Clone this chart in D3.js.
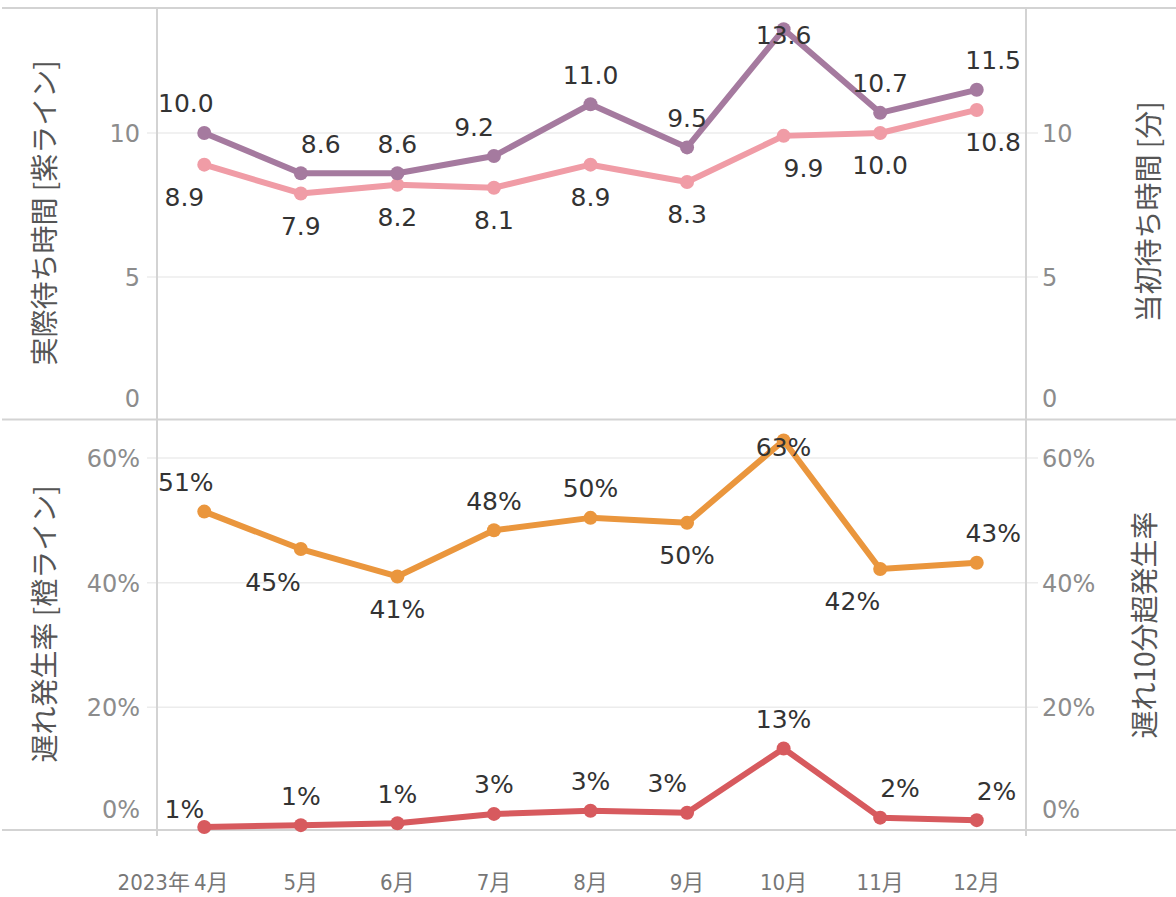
<!DOCTYPE html>
<html lang="ja">
<head>
<meta charset="utf-8">
<script src="https://cdn.jsdelivr.net/npm/d3@7"></script>
<style>
  html, body { margin: 0; padding: 0; background: #fff; }
  svg { display: block; }
  .tick-label { font-family: "DejaVu Sans", sans-serif; font-size: 24px; fill: #8c8c8c; }
  .value-label { font-family: "DejaVu Sans", sans-serif; font-size: 25px; fill: #333; }
  .axis-title { font-family: "Noto Sans CJK JP", sans-serif; font-size: 28px; fill: #555; }
  .month-label { font-family: "DejaVu Sans Condensed", "DejaVu Sans", "Noto Sans CJK JP", sans-serif; font-stretch: condensed; font-size: 22px; fill: #777; }
</style>
</head>
<body>
<svg id="chart" width="1176" height="897"></svg>
<script>
// ---- data ----
const yearLabel = "2023年";
const months = ["4月", "5月", "6月", "7月", "8月", "9月", "10月", "11月", "12月"];
const actualWait = [10.0, 8.6, 8.6, 9.2, 11.0, 9.5, 13.6, 10.7, 11.5];   // 実際待ち時間 (分)
const plannedWait = [8.9, 7.9, 8.2, 8.1, 8.9, 8.3, 9.9, 10.0, 10.8];    // 当初待ち時間 (分)
const delayRate = [0.514, 0.454, 0.410, 0.484, 0.504, 0.496, 0.628, 0.422, 0.432];      // 遅れ発生率
const delayOver10Rate = [0.008, 0.011, 0.014, 0.029, 0.034, 0.031, 0.134, 0.023, 0.019]; // 遅れ10分超発生率
const waitTicks = [0, 5, 10];
const rateTicks = [0, 0.2, 0.4, 0.6];

// label placement per point: a = above, l = just above, b = below; s/m/e = text anchor start/middle/end
const actualPlace  = ["ae", "as", "am", "ae", "am", "am", "am", "am", "as"];
const plannedPlace = ["be", "bm", "bm", "bm", "bm", "bm", "bs", "bm", "bs"];
const delayPlace   = ["ae", "be", "bm", "am", "am", "bm", "am", "be", "as"];
const over10Place  = ["le", "am", "am", "am", "am", "ae", "am", "as", "as"];

// ---- layout ----
const W = 1176, H = 897;
const paneL = 157, paneR = 1026;
const topPane = { top: 8, bottom: 419 };
const botPane = { top: 420, bottom: 830 };

const svg = d3.select("#chart");

const x = d3.scalePoint().domain(months).range([156, 1025]).padding(0.5);
const yWait = d3.scaleLinear().domain([0, 14.34]).range([421, 8]);
const yRate = d3.scaleLinear().domain([0, 0.661]).range([832, 420]);

// gridlines
function grid(scale, ticks, pane) {
  svg.append("g").selectAll("line")
    .data(ticks.filter(t => scale(t) > pane.top && scale(t) < pane.bottom))
    .join("line")
    .attr("x1", 147).attr("x2", 1038)
    .attr("y1", d => scale(d)).attr("y2", d => scale(d))
    .attr("stroke", "#ececec").attr("stroke-width", 1.5);
}
grid(yWait, waitTicks, topPane);
grid(yRate, rateTicks, botPane);

// pane borders
const borderColor = "#d3d3d3";
[topPane.top, topPane.bottom + 0.5, botPane.bottom].forEach(y => {
  svg.append("line").attr("x1", 2).attr("x2", W).attr("y1", y).attr("y2", y)
    .attr("stroke", borderColor).attr("stroke-width", 2);
});
[paneL, paneR].forEach(xx => {
  svg.append("line").attr("x1", xx).attr("x2", xx).attr("y1", topPane.top).attr("y2", 836)
    .attr("stroke", borderColor).attr("stroke-width", 2);
});

// axes (labels only)
function axis(gen, scale, ticks, fmt, xPos, pane) {
  const g = svg.append("g").attr("transform", `translate(${xPos},0)`)
    .call(gen(scale).tickValues(ticks).tickSize(0).tickPadding(gen === d3.axisLeft ? 17 : 16).tickFormat(fmt));
  g.select(".domain").remove();
  g.selectAll(".tick text")
    .attr("class", "tick-label")
    .attr("font-size", null).attr("font-family", null).attr("fill", null)
    .attr("dy", "0.36em")
    .attr("y", d => Math.min(0, (pane.bottom - 21) - scale(d)));
}
const pct = d3.format(".0%");
axis(d3.axisLeft, yWait, waitTicks, d3.format("d"), paneL, topPane);
axis(d3.axisRight, yWait, waitTicks, d3.format("d"), paneR, topPane);
axis(d3.axisLeft, yRate, rateTicks, pct, paneL, botPane);
axis(d3.axisRight, yRate, rateTicks, pct, paneR, botPane);

// axis titles
function title(text, cx, cy) {
  svg.append("text").attr("class", "axis-title")
    .attr("transform", `translate(${cx},${cy}) rotate(-90)`)
    .attr("text-anchor", "middle").attr("dominant-baseline", "central")
    .text(text);
}
title("実際待ち時間 [紫ライン]", 43, 213);
title("遅れ発生率 [橙ライン]", 43, 624);
title("当初待ち時間 [分]", 1147, 212);
title("遅れ10分超発生率", 1143, 625);

// series
const vOffset = { a: -29, l: -18, b: 33 };
function series(values, scale, color, place, fmt, pane) {
  const pts = values.map((v, i) => ({ v, m: months[i], p: place[i] }));
  const g = svg.append("g");
  g.append("path").datum(pts)
    .attr("fill", "none").attr("stroke", color).attr("stroke-width", 6)
    .attr("stroke-linejoin", "round").attr("stroke-linecap", "round")
    .attr("d", d3.line().x(d => x(d.m)).y(d => scale(d.v)));
  g.selectAll("circle").data(pts).join("circle")
    .attr("cx", d => x(d.m)).attr("cy", d => scale(d.v)).attr("r", 7)
    .attr("fill", color);
  const labels = g.selectAll("text").data(pts).join("text")
    .attr("class", "value-label")
    .attr("dominant-baseline", "central")
    .attr("text-anchor", d => ({ s: "start", m: "middle", e: "end" })[d.p[1]])
    .attr("x", d => x(d.m))
    .attr("y", d => Math.max(scale(d.v) + vOffset[d.p[0]], pane.top + 27))
    .text(d => fmt(d.v));
  // keep labels inside the pane horizontally
  labels.each(function () {
    const bb = this.getBBox();
    const el = d3.select(this);
    let shift = 0;
    if (bb.x < paneL + 1) shift = paneL + 1 - bb.x;
    if (bb.x + bb.width > paneR - 5) shift = (paneR - 5) - (bb.x + bb.width);
    if (shift) el.attr("x", +el.attr("x") + shift);
  });
}
const f1 = d3.format(".1f");
series(plannedWait, yWait, "#f09ca6", plannedPlace, f1, topPane);
series(actualWait, yWait, "#a57a9f", actualPlace, f1, topPane);
series(delayRate, yRate, "#ea963d", delayPlace, pct, botPane);
series(delayOver10Rate, yRate, "#d75a5e", over10Place, pct, botPane);

// month header
const mg = svg.append("g");
mg.selectAll("text").data(months).join("text")
  .attr("class", "month-label")
  .attr("x", (d, i) => x(d) + (i === 0 ? 7 : 0))
  .attr("y", 882)
  .attr("dominant-baseline", "central")
  .attr("text-anchor", "middle")
  .text(d => d);
const first = mg.select("text").node();
const fb = first.getBBox();
mg.append("text").attr("class", "month-label")
  .attr("x", fb.x - 4).attr("y", 882)
  .attr("dominant-baseline", "central").attr("text-anchor", "end")
  .text(yearLabel);
</script>
</body>
</html>
